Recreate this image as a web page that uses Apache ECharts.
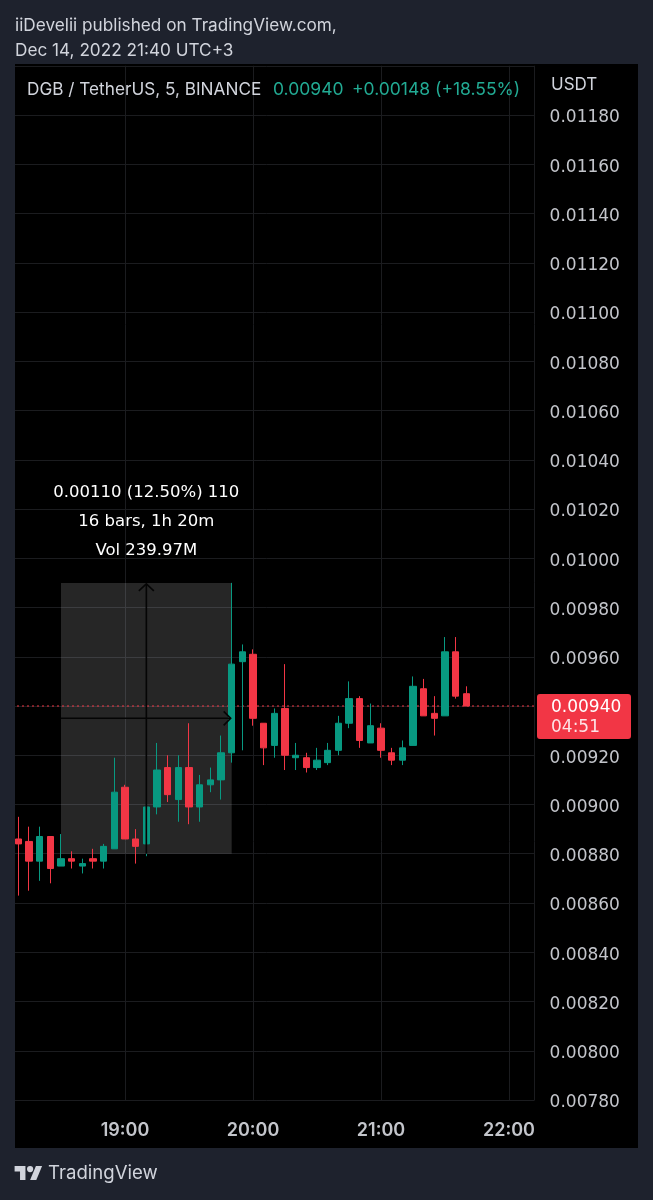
<!DOCTYPE html>
<html>
<head>
<meta charset="utf-8">
<script src="https://cdn.jsdelivr.net/npm/echarts@6/dist/echarts.min.js"></script>
<style>
html,body{margin:0;padding:0;background:#1e222d;}
#c{width:653px;height:1200px;}
</style>
</head>
<body>
<div id="c"></div>
<script>
// ---- data ----
const times = ['18:10','18:15','18:20','18:25','18:30','18:35','18:40','18:45','18:50','18:55',
  '19:00','19:05','19:10','19:15','19:20','19:25','19:30','19:35','19:40','19:45','19:50','19:55',
  '20:00','20:05','20:10','20:15','20:20','20:25','20:30','20:35','20:40','20:45','20:50','20:55',
  '21:00','21:05','21:10','21:15','21:20','21:25','21:30','21:35','21:40'];
const opens = [0.00886,0.00885,0.00877,0.00887,0.00875,0.00878,0.00875,0.00878,0.00877,0.00882,
  0.00907,0.00886,0.00884,0.00899,0.00915,0.00902,0.00915,0.00899,0.00908,0.00910,0.00921,0.00958,
  0.00961,0.00933,0.00924,0.00939,0.00919,0.00919,0.00915,0.00917,0.00922,0.00933,0.00943,0.00925,
  0.00931,0.00921,0.00918,0.00924,0.00947,0.00937,0.00936,0.00962,0.00945];
const closes = [0.00884,0.00877,0.00887,0.00874,0.00878,0.00877,0.00876,0.00877,0.00883,0.00905,
  0.00886,0.00883,0.00899,0.00914,0.00904,0.00915,0.00899,0.00908,0.00910,0.00921,0.00957,0.00962,
  0.00935,0.00923,0.00937,0.00920,0.00920,0.00915,0.00918,0.00922,0.00933,0.00943,0.00926,0.00932,
  0.00922,0.00918,0.00923,0.00948,0.00936,0.00935,0.00962,0.00944,0.00940];
const lows = [0.00863,0.00865,0.00869,0.00868,0.00875,0.00874,0.00872,0.00874,0.00874,0.00882,
  0.00886,0.00876,0.00879,0.00896,0.00901,0.00893,0.00892,0.00893,0.00905,0.00902,0.00917,0.00922,
  0.00932,0.00916,0.00919,0.00914,0.00914,0.00913,0.00914,0.00916,0.00920,0.00931,0.00923,0.00925,
  0.00919,0.00916,0.00916,0.00924,0.00936,0.00928,0.00936,0.00943,0.00940];
const highs = [0.00895,0.00891,0.00891,0.00887,0.00888,0.00881,0.00878,0.00882,0.00884,0.00919,
  0.00908,0.00890,0.00899,0.00925,0.00920,0.00920,0.00933,0.00912,0.00915,0.00928,0.00990,0.00965,
  0.00963,0.00933,0.00939,0.00957,0.00925,0.00921,0.00923,0.00925,0.00936,0.00950,0.00944,0.00941,
  0.00933,0.00923,0.00926,0.00952,0.00951,0.00944,0.00968,0.00968,0.00948];

const xTickLabels = ['19:00','20:00','21:00','22:00'];
const xRange = ['18:00','22:12'];
const yMin = 0.0078, yMax = 0.0120, yStep = 0.0002;

const lastPrice = 0.00940;
const lastPriceText = '0.00940';
const countdownText = '04:51';

const measureStart = '18:30', measureEnd = '19:50', measureMid = '19:10';
const measureLow = 0.00880, measureHigh = 0.00990;
const measureLines = ['0.00110 (12.50%) 110', '16 bars, 1h 20m', 'Vol 239.97M'];

const headerLines = ['iiDevelii published on TradingView.com,', 'Dec 14, 2022 21:40 UTC+3'];
const legendSymbol = 'DGB / TetherUS, 5, BINANCE';
const legendPrice = '0.00940';
const legendChange = '+0.00148 (+18.55%)';
const currencyText = 'USDT';
const brandText = 'TradingView';

// ---- style ----
const BG = '#1e222d';
const UP = '#089981', DOWN = '#f23645';
const TXT = '#d1d4dc', AXT = '#c3c5cb';
const FONT = 'Inter, "Noto Sans", sans-serif';
const NFONT = '"DejaVu Sans", Inter, sans-serif';

const toMin = t => { const p = t.split(':').map(Number); return (p[0] - 19) * 60 + p[1]; };
const fmt = v => { const tot = 19 * 60 + v; const h = Math.floor(tot / 60), m = ((tot % 60) + 60) % 60;
  return String(h).padStart(2, '0') + ':' + String(m).padStart(2, '0'); };

const data = times.map((t, i) => [toMin(t), opens[i], closes[i], lows[i], highs[i]]);

const chart = echarts.init(document.getElementById('c'), null, {renderer: 'canvas', width: 653, height: 1200});

chart.setOption({
  animation: false,
  backgroundColor: '#000000',
  grid: {left: -3, width: 537.6, top: 65.75, height: 1034.25, outerBoundsMode: 'none', containLabel: false},
  xAxis: {
    type: 'value', min: toMin(xRange[0]), max: toMin(xRange[1]), interval: 60,
    axisLine: {show: false}, axisTick: {show: false},
    splitLine: {show: true, lineStyle: {color: '#1b1c1f', width: 1}},
    axisLabel: {color: AXT, fontFamily: FONT, fontSize: 18, fontWeight: 600, margin: 22,
      showMinLabel: false, showMaxLabel: false,
      formatter: v => xTickLabels.indexOf(fmt(v)) >= 0 ? fmt(v) : ''}
  },
  yAxis: {
    type: 'value', position: 'right', min: yMin, max: yMax, interval: yStep, scale: true,
    axisLine: {show: false}, axisTick: {show: false},
    splitLine: {show: true, lineStyle: {color: '#1b1c1f', width: 1}},
    axisLabel: {color: AXT, fontFamily: NFONT, fontSize: 17, margin: 15, align: 'left',
      verticalAlign: 'top', lineHeight: 6,
      showMaxLabel: false, formatter: v => v.toFixed(5)}
  },
  series: [{
    type: 'line',
    data: [[toMin(xRange[0]), lastPrice], [toMin(xRange[1]), lastPrice]],
    symbol: 'none', silent: true, z: 1,
    lineStyle: {color: DOWN, type: [2, 3], width: 1}
  }, {
    type: 'candlestick',
    data: data,
    encode: {x: 0, y: [1, 2, 3, 4]},
    barWidth: 7, z: 3,
    itemStyle: {color: UP, color0: DOWN, borderColor: UP, borderColor0: DOWN, borderWidth: 1},
    markArea: {
      silent: true,
      itemStyle: {color: 'rgba(255,255,255,0.15)'},
      data: [[{coord: [toMin(measureStart), measureHigh]}, {coord: [toMin(measureEnd), measureLow]}]]
    }
  }]
});

// ---- overlays positioned through the chart's own scales ----
const px = (t, p) => chart.convertToPixel({gridIndex: 0}, [toMin(t), p]);
const [bx0, byTop] = px(measureStart, measureHigh);
const [bx1, byBot] = px(measureEnd, measureLow);
const [mx] = px(measureMid, measureLow);
const midPrice = (measureLow + measureHigh) / 2;
const myMid = px(measureMid, midPrice)[1];
const py = px(measureMid, lastPrice)[1];

const txt = (x, y, text, size, fill, align, family, weight) => ({
  type: 'text', x: x, y: y, z: 120,
  style: {text: text, fill: fill, font: (weight || 'normal') + ' ' + size + 'px ' + (family || FONT),
    textAlign: align || 'left', align: align || 'left', textVerticalAlign: 'middle', verticalAlign: 'middle'}
});

// TradingView logo polygons (unit coordinates), scaled into place
const logoA = [[14,22],[7,22],[7,11],[0,11],[0,4],[14,4]];
const logoB = [[28,22],[20,22],[27.5,4],[35.5,4]];
const LX = 14.6, LY = 1166, LS = 0.775;
const tr = pts => pts.map(p => [LX + p[0] * LS, LY + (p[1] - 4) * LS]);

const lineCol = '#050505';
const graphics = [
  // measurement arrows
  {type: 'polyline', z: 50, shape: {points: [[mx, byBot], [mx, byTop + 1]]}, style: {stroke: lineCol, lineWidth: 1.6, fill: null}},
  {type: 'polyline', z: 50, shape: {points: [[mx - 7.5, byTop + 8], [mx, byTop + 1], [mx + 7.5, byTop + 8]]}, style: {stroke: lineCol, lineWidth: 1.6, fill: null}},
  {type: 'polyline', z: 50, shape: {points: [[bx0, myMid], [bx1 - 1, myMid]]}, style: {stroke: lineCol, lineWidth: 1.6, fill: null}},
  {type: 'polyline', z: 50, shape: {points: [[bx1 - 8, myMid - 7], [bx1 - 1, myMid], [bx1 - 8, myMid + 7]]}, style: {stroke: lineCol, lineWidth: 1.6, fill: null}},
  txt(mx, byTop - 90, measureLines[0], 16.5, '#ffffff', 'center', NFONT),
  txt(mx, byTop - 61, measureLines[1], 16.5, '#ffffff', 'center', NFONT),
  txt(mx, byTop - 32, measureLines[2], 16.5, '#ffffff', 'center', NFONT),
  // frame
  {type: 'rect', z: 100, shape: {x: 0, y: 0, width: 653, height: 64}, style: {fill: BG}},
  {type: 'rect', z: 100, shape: {x: 0, y: 0, width: 15, height: 1200}, style: {fill: BG}},
  {type: 'rect', z: 100, shape: {x: 638, y: 0, width: 15, height: 1200}, style: {fill: BG}},
  {type: 'rect', z: 100, shape: {x: 0, y: 1148, width: 653, height: 52}, style: {fill: BG}},
  // last price label
  {type: 'rect', z: 110, shape: {x: 537, y: py - 12, width: 94, height: 45, r: 3}, style: {fill: DOWN}},
  txt(551, py + 1.5, lastPriceText, 17, '#ffffff', 'left', NFONT),
  txt(551, py + 22, countdownText, 17, '#fde3e6', 'left', NFONT),
  // header
  txt(15, 26, headerLines[0], 17.2, TXT),
  txt(15, 51, headerLines[1], 17.2, TXT),
  txt(27, 90, legendSymbol, 17.2, TXT),
  txt(273, 90, legendPrice, 17.5, '#22ab94'),
  txt(352, 90, legendChange, 17.5, '#22ab94'),
  txt(551, 85, currencyText, 17, TXT),
  // brand
  {type: 'polygon', z: 120, shape: {points: tr(logoA)}, style: {fill: TXT}},
  {type: 'polygon', z: 120, shape: {points: tr(logoB)}, style: {fill: TXT}},
  {type: 'circle', z: 120, shape: {cx: LX + 20 * LS, cy: LY + 4 * LS, r: 4 * LS}, style: {fill: TXT}},
  txt(48, 1173, brandText, 18.6, TXT)
];

chart.setOption({graphic: {elements: graphics}});
</script>
</body>
</html>
